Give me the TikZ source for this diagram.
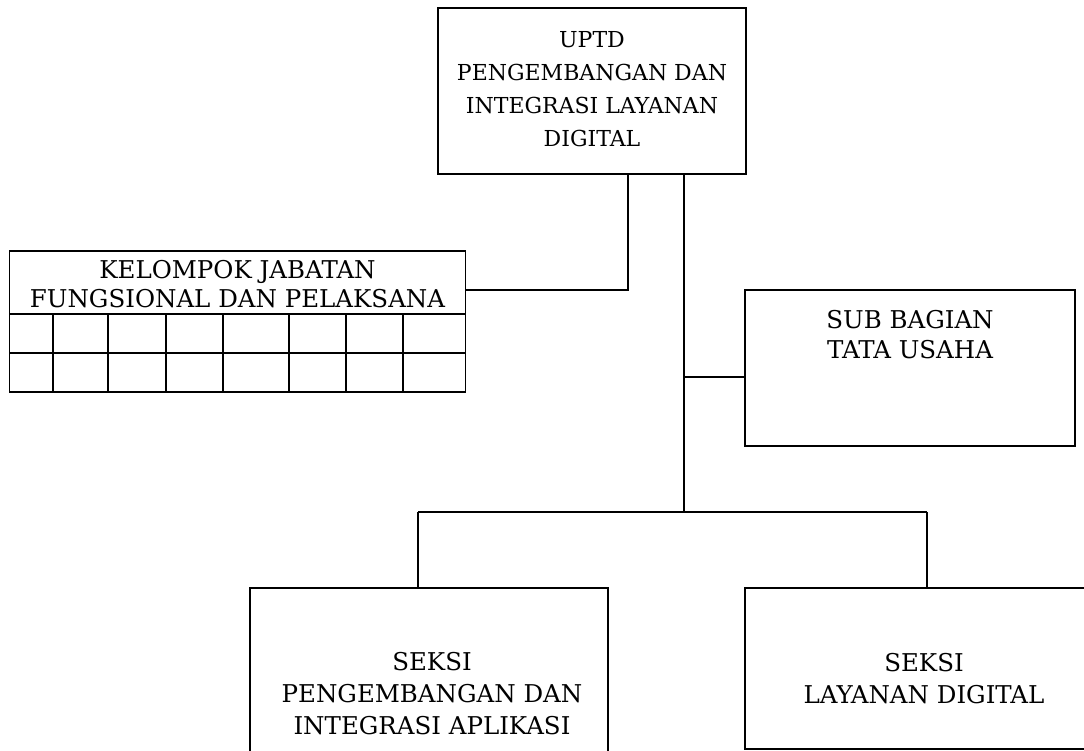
\documentclass[tikz,border=0pt]{standalone}
\usepackage{fontspec}
\setmainfont{DejaVu Serif}
\usetikzlibrary{calc}
\tikzset{
  box/.style={draw=black, line width=1.1pt, rectangle, inner sep=0pt},
  lbl/.style={align=center, inner sep=0pt},
  conn/.style={draw=black, line width=1.1pt},
  grid/.style={draw=black, line width=1.6pt}
}
\begin{document}
\begin{tikzpicture}[x=1pt,y=-1pt]
\useasboundingbox (0,0) rectangle (1084,751);
\clip (0,0) rectangle (1084,751);
\fill[white] (0,0) rectangle (1084,751);
% top box
\node[box, minimum width=308pt, minimum height=166pt] (top) at (592,91) {};
\node[lbl, font=\fontsize{22}{33}\selectfont] (toptxt) at (592,89) {UPTD\\PENGEMBANGAN DAN\\INTEGRASI LAYANAN\\DIGITAL};
% kelompok
\node[grid, draw, rectangle, inner sep=0pt, minimum width=456pt, minimum height=141pt] (kel) at (237.5,321.5) {};
\node[lbl, font=\fontsize{24.5}{29}\selectfont] (keltxt) at (237.5,284) {KELOMPOK JABATAN\\FUNGSIONAL DAN PELAKSANA};
\draw[grid] (9.5,314) -- (465.5,314);
\draw[grid] (9.5,353) -- (465.5,353);
\foreach \cx in {53,108,166,223,289,346,403}{
  \draw[grid] (\cx,314) -- (\cx,392);
}
% sub bagian
\node[box, minimum width=330pt, minimum height=156pt] (sub) at (910,368) {};
\node[lbl, font=\fontsize{24.5}{30}\selectfont] (subtxt) at (910,335) {SUB BAGIAN\\TATA USAHA};
% seksi left
\node[box, minimum width=358pt, minimum height=180pt] (sl) at (429,678) {};
\node[lbl, font=\fontsize{24.5}{32}\selectfont] (sltxt) at (432,694) {SEKSI\\PENGEMBANGAN DAN\\INTEGRASI APLIKASI};
% seksi right
\node[box, minimum width=350pt, minimum height=161pt] (sr) at (920,668.5) {};
\node[lbl, font=\fontsize{24.5}{32}\selectfont] (srtxt) at (924,679) {SEKSI\\LAYANAN DIGITAL};
% connectors
\coordinate (x1) at (628,0);
\coordinate (x2) at (684,0);
\coordinate (yk) at (0,290);
\coordinate (ys) at (0,377);
\coordinate (yb) at (0,512);
\coordinate (dl) at (418,0);
\coordinate (dr) at (927,0);
\draw[conn] (top.south -| x1) |- (kel.east |- yk);
\draw[conn] (top.south -| x2) -- (x2 |- yb);
\draw[conn] (x2 |- ys) -- (sub.west |- ys);
\draw[conn] (dl |- yb) -- (dr |- yb);
\draw[conn] (dl |- yb) -- (sl.north -| dl);
\draw[conn] (dr |- yb) -- (sr.north -| dr);
\end{tikzpicture}
\end{document}
